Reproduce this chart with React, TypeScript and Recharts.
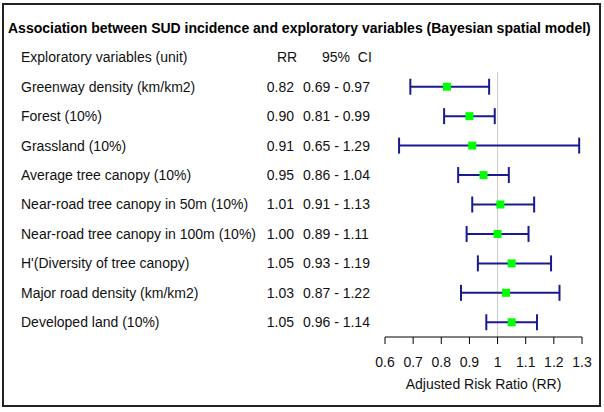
import React from "react";
import { ComposedChart, Scatter, ErrorBar, XAxis, YAxis, ReferenceLine } from "recharts";

const variables = [
  "Greenway density (km/km2)",
  "Forest (10%)",
  "Grassland (10%)",
  "Average tree canopy (10%)",
  "Near-road tree canopy in 50m (10%)",
  "Near-road tree canopy in 100m (10%)",
  "H'(Diversity of tree canopy)",
  "Major road density (km/km2)",
  "Developed land (10%)",
];
const rrValues = [0.82, 0.9, 0.91, 0.95, 1.01, 1.0, 1.05, 1.03, 1.05];
const ciLow = [0.69, 0.81, 0.65, 0.86, 0.91, 0.89, 0.93, 0.87, 0.96];
const ciHigh = [0.97, 0.99, 1.29, 1.04, 1.13, 1.11, 1.19, 1.22, 1.14];
const xTicks = [0.6, 0.7, 0.8, 0.9, 1, 1.1, 1.2, 1.3];

const rows = variables.map((name, i) => ({
  name,
  rr: rrValues[i],
  err: [rrValues[i] - ciLow[i], ciHigh[i] - rrValues[i]],
}));

const FONT = "'Liberation Sans', Arial, sans-serif";

function RowTick(props: any) {
  const { y, payload } = props;
  const i = variables.indexOf(payload.value);
  if (i < 0) return null;
  return (
    <g fontFamily={FONT} fontSize={14} fill="#111">
      <text x={21} y={y} dy="0.35em">{variables[i]}</text>
      <text x={294} y={y} dy="0.35em" textAnchor="end">{rrValues[i].toFixed(2)}</text>
      <text x={303} y={y} dy="0.35em">
        {`${ciLow[i].toFixed(2)} - ${ciHigh[i].toFixed(2)}`}
      </text>
    </g>
  );
}

function Square(props: any) {
  const { cx, cy } = props;
  return <rect x={cx - 4} y={cy - 4} width={8} height={8} fill="#00ff00" />;
}

export default function App() {
  return (
    <div style={{ position: "absolute", left: 0, top: 0, width: 604, height: 412, background: "#fff", fontFamily: FONT }}>
      <div style={{ position: "absolute", left: 2, top: 3, width: 599, height: 404, border: "2px solid #222", boxSizing: "border-box" }} />
      <div style={{ position: "absolute", left: 8, top: 20, lineHeight: "16px", fontSize: 14, fontWeight: "bold", color: "#000", whiteSpace: "nowrap" }}>
        Association between SUD incidence and exploratory variables (Bayesian spatial model)
      </div>
      <div style={{ position: "absolute", left: 21, top: 49, lineHeight: "16px", fontSize: 14, color: "#111" }}>
        Exploratory variables (unit)
      </div>
      <div style={{ position: "absolute", left: 277, top: 49, lineHeight: "16px", fontSize: 14, color: "#111" }}>RR</div>
      <div style={{ position: "absolute", left: 322, top: 49, lineHeight: "16px", fontSize: 14, color: "#111", whiteSpace: "pre" }}>95%  CI</div>
      <div style={{ position: "absolute", left: 0, top: 0 }}>
        <ComposedChart
          width={604}
          height={412}
          data={rows}
          layout="vertical"
          margin={{ top: 72, right: 22, bottom: 23, left: 0 }}
        >
          <XAxis
            type="number"
            dataKey="rr"
            domain={[0.6, 1.3]}
            allowDataOverflow
            ticks={xTicks}
            interval={0}
            tickFormatter={(v: number) => String(v)}
            height={52}
            tickSize={7}
            tickMargin={13}
            stroke="#000"
            tick={{ fill: "#111", fontSize: 14, fontFamily: FONT }}
            label={{ value: "Adjusted Risk Ratio (RR)", position: "insideBottom", offset: 0, fill: "#111", fontSize: 14, fontFamily: FONT }}
          />
          <YAxis
            type="category"
            dataKey="name"
            scale="band"
            width={385}
            axisLine={false}
            tickLine={false}
            interval={0}
            tick={<RowTick />}
          />
          <ReferenceLine x={1} stroke="#cccccc" strokeWidth={1} />
          <Scatter dataKey="rr" shape={<Square />} isAnimationActive={false}>
            <ErrorBar dataKey="err" direction="x" width={8} stroke="#1a1a8f" strokeWidth={2} isAnimationActive={false} />
          </Scatter>
        </ComposedChart>
      </div>
    </div>
  );
}
